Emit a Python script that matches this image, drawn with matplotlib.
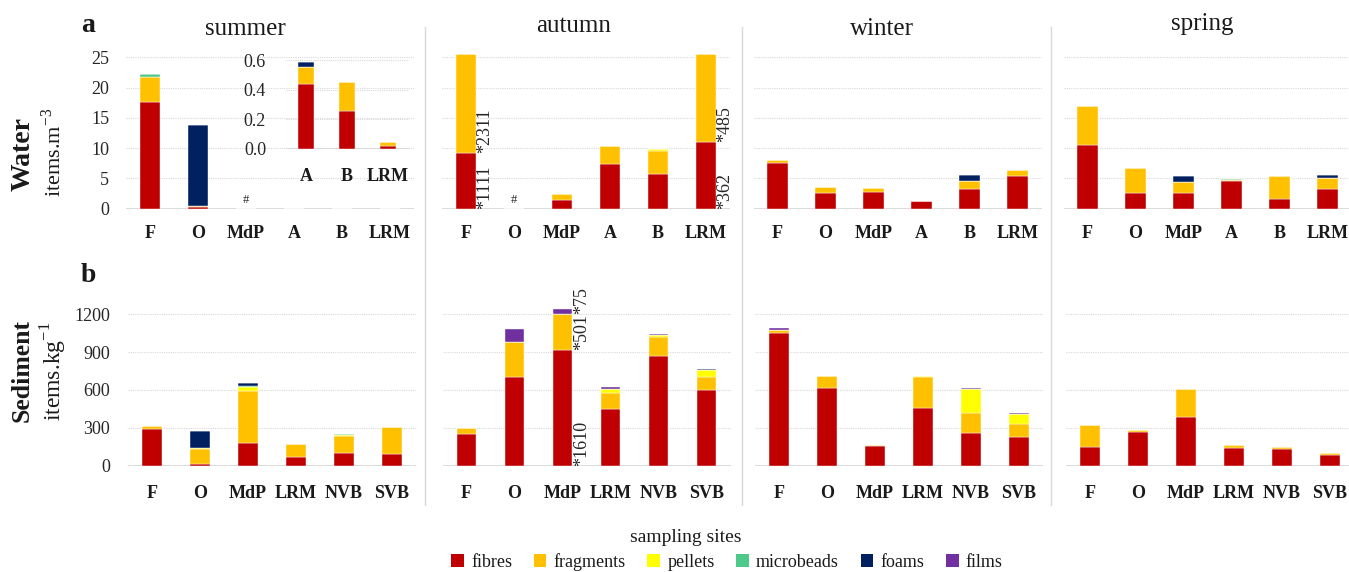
import matplotlib.pyplot as plt
import numpy as np
from matplotlib.patches import Patch
from matplotlib.lines import Line2D

plt.rcParams['font.family'] = ['Liberation Serif', 'DejaVu Serif']

W, H = 1349, 572

types = ['fibres', 'fragments', 'pellets', 'microbeads', 'foams', 'films']
colors = ['#C00000', '#FFC000', '#FFFF00', '#4FC98A', '#002060', '#7030A0']

seasons = ['summer', 'autumn', 'winter', 'spring']
water_sites = ['F', 'O', 'MdP', 'A', 'B', 'LRM']
sed_sites = ['F', 'O', 'MdP', 'LRM', 'NVB', 'SVB']

# water, items.m-3 -- one list per type, order of water_sites
w_summer_fibres = [17.7, 0.3, 0, 0, 0, 0]
w_summer_fragments = [4.1, 0.2, 0, 0, 0, 0]
w_summer_pellets = [0, 0, 0, 0, 0, 0]
w_summer_microbeads = [0.4, 0, 0, 0, 0, 0]
w_summer_foams = [0, 13.3, 0, 0, 0, 0]
w_summer_films = [0, 0, 0, 0, 0, 0]

# summer A, B, LRM are too small for the main scale -> inset
inset_sites = ['A', 'B', 'LRM']
w_inset_fibres = [0.436, 0.258, 0.022]
w_inset_fragments = [0.119, 0.194, 0.025]
w_inset_foams = [0.030, 0, 0]

w_autumn_fibres = [9.2, 0, 1.4, 7.4, 5.8, 11.0]
w_autumn_fragments = [16.3, 0, 0.95, 3.0, 3.8, 14.6]
w_autumn_pellets = [0, 0, 0, 0, 0.2, 0]
w_autumn_microbeads = [0, 0, 0, 0, 0, 0]
w_autumn_foams = [0, 0, 0, 0, 0, 0]
w_autumn_films = [0, 0, 0, 0, 0, 0]

w_winter_fibres = [7.5, 2.55, 2.7, 1.2, 3.2, 5.4]
w_winter_fragments = [0.5, 1.0, 0.8, 0.1, 1.4, 1.0]
w_winter_pellets = [0, 0, 0, 0, 0, 0]
w_winter_microbeads = [0, 0, 0, 0, 0, 0]
w_winter_foams = [0, 0, 0, 0, 1.0, 0]
w_winter_films = [0, 0, 0, 0, 0, 0]

w_spring_fibres = [10.5, 2.55, 2.55, 4.5, 1.65, 3.25]
w_spring_fragments = [6.5, 4.15, 1.85, 0.3, 3.8, 1.85]
w_spring_pellets = [0, 0, 0, 0, 0, 0]
w_spring_microbeads = [0, 0, 0, 0.15, 0, 0]
w_spring_foams = [0, 0, 0.95, 0, 0, 0.45]
w_spring_films = [0, 0, 0, 0, 0, 0]

# sediment, items.kg-1, order of sed_sites
s_summer_fibres = [288, 12, 178, 69, 99, 91]
s_summer_fragments = [24, 116, 416, 99, 133, 213]
s_summer_pellets = [0, 8, 32, 6, 8, 5]
s_summer_microbeads = [0, 0, 8, 0, 8, 0]
s_summer_foams = [0, 134, 22, 0, 0, 0]
s_summer_films = [0, 0, 0, 0, 0, 0]

s_autumn_fibres = [251, 703, 917, 447, 869, 600]
s_autumn_fragments = [45, 277, 288, 132, 154, 106]
s_autumn_pellets = [0, 0, 0, 29, 15, 50]
s_autumn_microbeads = [0, 0, 0, 0, 0, 0]
s_autumn_foams = [0, 0, 0, 0, 0, 11]
s_autumn_films = [0, 106, 39, 16, 8, 0]

s_winter_fibres = [1055, 612, 158, 454, 261, 227]
s_winter_fragments = [20, 95, 8, 245, 153, 103]
s_winter_pellets = [0, 0, 0, 13, 195, 81]
s_winter_microbeads = [0, 0, 0, 0, 0, 0]
s_winter_foams = [0, 0, 0, 0, 0, 0]
s_winter_films = [14, 0, 0, 0, 6, 5]

s_spring_fibres = [143, 269, 388, 138, 132, 85]
s_spring_fragments = [182, 13, 217, 24, 14, 15]
s_spring_pellets = [0, 0, 0, 0, 0, 0]
s_spring_microbeads = [0, 0, 0, 0, 0, 0]
s_spring_foams = [0, 0, 0, 0, 0, 0]
s_spring_films = [0, 0, 0, 0, 0, 0]

water = {
    'summer': [w_summer_fibres, w_summer_fragments, w_summer_pellets, w_summer_microbeads, w_summer_foams, w_summer_films],
    'autumn': [w_autumn_fibres, w_autumn_fragments, w_autumn_pellets, w_autumn_microbeads, w_autumn_foams, w_autumn_films],
    'winter': [w_winter_fibres, w_winter_fragments, w_winter_pellets, w_winter_microbeads, w_winter_foams, w_winter_films],
    'spring': [w_spring_fibres, w_spring_fragments, w_spring_pellets, w_spring_microbeads, w_spring_foams, w_spring_films],
}
sediment = {
    'summer': [s_summer_fibres, s_summer_fragments, s_summer_pellets, s_summer_microbeads, s_summer_foams, s_summer_films],
    'autumn': [s_autumn_fibres, s_autumn_fragments, s_autumn_pellets, s_autumn_microbeads, s_autumn_foams, s_autumn_films],
    'winter': [s_winter_fibres, s_winter_fragments, s_winter_pellets, s_winter_microbeads, s_winter_foams, s_winter_films],
    'spring': [s_spring_fibres, s_spring_fragments, s_spring_pellets, s_spring_microbeads, s_spring_foams, s_spring_films],
}

# off-scale bars: (season, site index, type index, label)
water_notes = [('autumn', 0, 0, '*1111'), ('autumn', 0, 1, '*2311'),
               ('autumn', 5, 0, '*362'), ('autumn', 5, 1, '*485')]
sed_notes = [('autumn', 2, 0, '*1610'), ('autumn', 2, 1, '*501'), ('autumn', 2, 5, '*75')]
no_sample = [('summer', 2), ('autumn', 1)]  # '#': no water sample

GRID = '#D9D9D9'
TXT = '#1a1a1a'


def box(x0, y0, x1, y1):
    # pixel box -> figure fraction rect
    return [x0 / W, 1 - y1 / H, (x1 - x0) / W, (y1 - y0) / H]


def stacked(ax, layers, width):
    x = np.arange(len(layers[0]))
    bottom = np.zeros(len(x))
    for vals, c in zip(layers, colors):
        vals = np.asarray(vals, float)
        ax.bar(x, vals, width, bottom=bottom, color=c, edgecolor='white', linewidth=0.3, zorder=3)
        bottom += vals
    return x, bottom


def style(ax, sites, yticks, ylim, show_y, xpad=12, ypad=12):
    ax.set_xlim(-0.5, len(sites) - 0.5)
    ax.set_ylim(*ylim)
    ax.set_yticks(yticks)
    ax.set_xticks(range(len(sites)))
    ax.set_xticklabels(sites, fontweight='bold', fontsize=13, color=TXT)
    for s in ax.spines.values():
        s.set_visible(False)
    ax.tick_params(length=0, pad=xpad, axis='x')
    ax.tick_params(length=0, pad=ypad, axis='y', labelsize=13, labelcolor='#262626')
    if not show_y:
        ax.set_yticklabels([])
    for t in yticks[1:]:
        ax.axhline(t, color=GRID, lw=0.8, ls=(0, (1, 1)), zorder=1)
    ax.axhline(0, color=GRID, lw=1.3, zorder=2)
    ax.patch.set_alpha(0)


def notes(ax, data, items, season):
    for s, j, k, lab in items:
        if s == season:
            base = sum(data[season][m][j] for m in range(k))
            ax.text(j + 0.22, base, lab, rotation=90, rotation_mode='anchor',
                    ha='left', va='top', fontsize=13, color='#262626', zorder=4)


fig = plt.figure(figsize=(W / 100, H / 100), dpi=100)

# left pixel edge of each panel; one category = 48 px
top_left = {'summer': 126, 'autumn': 442, 'winter': 753.5, 'spring': 1063.5}
bot_left = {'summer': 128, 'autumn': 442.5, 'winter': 755, 'spring': 1066}
step = 48

w_y0 = 208.7 - 26 * 6.056
s_y0 = 465.5 - 1300 * 0.126

for i, season in enumerate(seasons):
    # water row
    x0 = top_left[season]
    ax = fig.add_axes(box(x0, w_y0, x0 + 6 * step, 208.7))
    stacked(ax, water[season], 0.42)
    style(ax, water_sites, [0, 5, 10, 15, 20, 25], (0, 26), i == 0, xpad=12, ypad=12)
    for s, j in no_sample:
        if s == season:
            ax.text(j, 0.4, '#', ha='center', va='bottom', fontsize=9, color='#262626')
    notes(ax, water, water_notes, season)

    # sediment row
    x0 = bot_left[season]
    ax = fig.add_axes(box(x0, s_y0, x0 + 6 * step, 465.5))
    stacked(ax, sediment[season], 0.40)
    style(ax, sed_sites, [0, 300, 600, 900, 1200], (0, 1300), i == 0, xpad=14, ypad=13)
    notes(ax, sediment, sed_notes, season)

# summer inset for the small water values
ax = fig.add_axes(box(285.5, 149 - 0.62 * 148.3, 408.5, 149))
inset_layers = [w_inset_fibres, w_inset_fragments, [0, 0, 0], [0, 0, 0], w_inset_foams, [0, 0, 0]]
stacked(ax, inset_layers, 0.38)
style(ax, inset_sites, [0.0, 0.2, 0.4, 0.6], (0, 0.62), True, xpad=14, ypad=14)
ax.set_yticklabels(['0.0', '0.2', '0.4', '0.6'])

# titles and row labels
title_base = {'summer': (245, 35), 'autumn': (574, 32), 'winter': (882, 35), 'spring': (1202, 30)}
for season, (tx, ty) in title_base.items():
    fig.text(tx / W, 1 - ty / H, season, ha='center', va='baseline', fontsize=18, color=TXT)

fig.text(88 / W, 1 - 25 / H, 'a', ha='center', va='center', fontsize=20, fontweight='bold', color=TXT)
fig.text(88 / W, 1 - 275 / H, 'b', ha='center', va='center', fontsize=20, fontweight='bold', color=TXT)
fig.text(23 / W, 1 - 154 / H, 'Water', rotation=90, ha='center', va='center', fontsize=20,
         fontweight='bold', color=TXT)
fig.text(53 / W, 1 - 152 / H, r'items.m$^{\mathregular{-3}}$', rotation=90, ha='center', va='center',
         fontsize=16, color=TXT)
fig.text(22 / W, 1 - 370 / H, 'Sediment', rotation=90, ha='center', va='center', fontsize=18.5,
         fontweight='bold', color=TXT)
fig.text(54 / W, 1 - 371 / H, r'items.kg$^{\mathregular{-1}}$', rotation=90, ha='center', va='center',
         fontsize=17, color=TXT)

# chart borders between seasons
for xs in (425, 742, 1051):
    fig.add_artist(Line2D([xs / W, xs / W], [1 - 27 / H, 1 - 505 / H], color=GRID, lw=1))

fig.text(686 / W, 1 - 537 / H, 'sampling sites', ha='center', va='center', fontsize=14, color=TXT)
handles = [Patch(facecolor=c, label=t) for c, t in zip(colors, types)]
fig.legend(handles=handles, loc='center', bbox_to_anchor=(727 / W, 1 - 562 / H), ncol=6,
           frameon=False, fontsize=13, handlelength=0.7, handleheight=0.7,
           handletextpad=0.4, columnspacing=1.2, borderaxespad=0, labelcolor=TXT)

fig.savefig('out.png', dpi=100)
